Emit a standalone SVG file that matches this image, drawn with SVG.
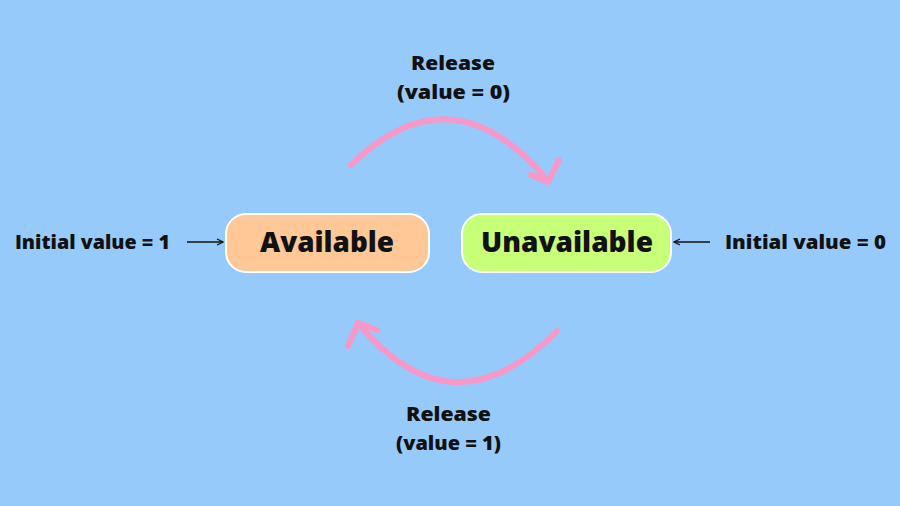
<svg xmlns="http://www.w3.org/2000/svg" width="900" height="506" viewBox="0 0 900 506">
<defs>
<style>
.t{font-family:"Open Sans","DejaVu Sans","Liberation Sans",sans-serif;font-weight:800;fill:#111;}
.lbl{font-size:19px;}
.side{font-size:19px;}
.node{font-size:28px;}
.arc{fill:none;stroke:#F898C8;stroke-width:6;stroke-linecap:round;stroke-linejoin:round;}
.thin{fill:none;stroke:#111;stroke-width:1.5;}
</style>
<marker id="ah" markerWidth="8" markerHeight="8" refX="7" refY="4" orient="auto" markerUnits="userSpaceOnUse">
<path d="M1,1 L7,4 L1,7" fill="none" stroke="#111" stroke-width="1.3"/>
</marker>
</defs>
<rect width="900" height="506" fill="#96CAFB"/>
<g id="available">
<rect x="226" y="214" width="203" height="58" rx="20" fill="#FFC896" stroke="#fff" stroke-width="2"/>
<text class="t node" x="260" y="252" textLength="134" lengthAdjust="spacingAndGlyphs">Available</text>
</g>
<g id="unavailable">
<rect x="462" y="214" width="209" height="58" rx="20" fill="#C7FF78" stroke="#fff" stroke-width="2"/>
<text class="t node" x="481" y="252" textLength="172" lengthAdjust="spacingAndGlyphs">Unavailable</text>
</g>
<g id="labels">
<text class="t lbl" x="411" y="70" textLength="84" lengthAdjust="spacingAndGlyphs">Release</text>
<text class="t lbl" x="397" y="99" textLength="113" lengthAdjust="spacingAndGlyphs">(value = 0)</text>
<text class="t lbl" x="406" y="421" textLength="85" lengthAdjust="spacingAndGlyphs">Release</text>
<text class="t lbl" x="396" y="450" textLength="105" lengthAdjust="spacingAndGlyphs">(value = 1)</text>
<text class="t side" x="15" y="249" textLength="155" lengthAdjust="spacingAndGlyphs">Initial value = 1</text>
<text class="t side" x="725" y="249" textLength="161" lengthAdjust="spacingAndGlyphs">Initial value = 0</text>
</g>
<g id="connectors">
<path class="arc" d="M351,165 Q452,66 548,181"/>
<path class="arc" d="M531,175 L548,182 L559,160"/>
<path class="arc" d="M557,331 Q452,437 358,323"/>
<path class="arc" d="M348,346 L358,323 L377,330"/>
<line class="thin" x1="187" y1="242" x2="223" y2="242" marker-end="url(#ah)"/>
<line class="thin" x1="710" y1="242" x2="674" y2="242" marker-end="url(#ah)"/>
</g>
</svg>
